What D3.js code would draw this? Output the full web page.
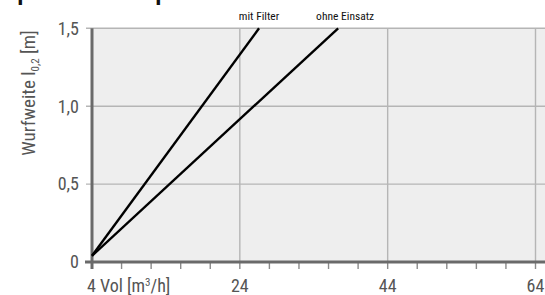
<!DOCTYPE html>
<html><head><meta charset="utf-8">
<script src="https://cdn.jsdelivr.net/npm/d3@7"></script>
<style>
html,body{margin:0;padding:0;background:#fff;}
svg{display:block;}
.cond{font-family:"Roboto Condensed","Liberation Sans Narrow","DejaVu Sans Condensed","Roboto",sans-serif;font-stretch:condensed;}
</style></head>
<body>
<svg id="chart" width="545" height="295"></svg>
<script>
// data
const xTicks = [4, 24, 44, 64];
const xMinorTicks = [4, 8, 12, 16, 20, 24, 28, 32, 36, 40, 44, 48, 52, 56, 60, 64];
const yTicks = [0, 0.5, 1.0, 1.5];
const yTickLabels = ["0", "0,5", "1,0", "1,5"];
const seriesNames = ["mit Filter", "ohne Einsatz"];
const mitFilter = [[4, 0.04], [26.6, 1.5]];
const ohneEinsatz = [[4, 0.04], [37.3, 1.5]];

const svg = d3.select("#chart");
const W = 545, H = 295;
const x = d3.scaleLinear().domain([4, 64]).range([92, 535.5]);
const y = d3.scaleLinear().domain([0, 1.5]).range([262, 28.3]);
const textCol = "#555";
const gridCol = "#b5b5b5";
const axisCol = "#6a6a6a";

// cropped title fragments at the very top
svg.append("g").attr("font-family", "Liberation Sans, Arial, sans-serif").attr("font-weight", "bold")
  .attr("font-size", 24).attr("fill", "#111")
  .selectAll("text").data([[17, "p"], [155, "p"]]).join("text")
  .attr("x", d => d[0]).attr("y", -0.5).text(d => d[1]);

// plot background
svg.append("rect").attr("x", x(4)).attr("y", y(1.5)).attr("width", W - x(4)).attr("height", y(0) - y(1.5)).attr("fill", "#eeeeee");

// horizontal grid
svg.append("g").selectAll("line").data(yTicks.filter(d => d > 0)).join("line")
  .attr("x1", 86).attr("x2", W).attr("y1", d => y(d)).attr("y2", d => y(d))
  .attr("stroke", gridCol).attr("stroke-width", 1.4);
// vertical grid
svg.append("g").selectAll("line").data(xTicks.filter(d => d > 4)).join("line")
  .attr("x1", d => x(d)).attr("x2", d => x(d)).attr("y1", y(1.5)).attr("y2", y(0))
  .attr("stroke", gridCol).attr("stroke-width", 1.4);

// bottom minor ticks
svg.append("g").selectAll("line").data(xMinorTicks).join("line")
  .attr("x1", d => x(d)).attr("x2", d => x(d)).attr("y1", y(0)).attr("y2", y(0) + 7)
  .attr("stroke", "#8a8a8a").attr("stroke-width", 1.4);

// axes lines
svg.append("line").attr("x1", 85).attr("x2", W).attr("y1", y(0)).attr("y2", y(0))
  .attr("stroke", axisCol).attr("stroke-width", 3);
svg.append("line").attr("x1", x(4)).attr("x2", x(4)).attr("y1", y(1.5)).attr("y2", y(0) + 7)
  .attr("stroke", axisCol).attr("stroke-width", 3);

// series lines
const line = d3.line().x(d => x(d[0])).y(d => y(d[1]));
svg.append("g").selectAll("path").data([mitFilter, ohneEinsatz]).join("path")
  .attr("d", line).attr("fill", "none").attr("stroke", "#000").attr("stroke-width", 2.4);

// series labels
const ends = [mitFilter[1], ohneEinsatz[1]];
svg.append("g").attr("class", "cond").attr("font-size", 11.5).attr("fill", "#111")
  .selectAll("text").data(seriesNames).join("text")
  .attr("x", (d, i) => x(ends[i][0]) + (i === 0 ? 0 : 7)).attr("y", 20).attr("text-anchor", "middle").text(d => d);

// y tick labels
svg.append("g").attr("class", "cond").attr("font-size", 18).attr("fill", textCol)
  .selectAll("text").data(yTicks).join("text")
  .attr("x", 79).attr("y", d => y(d)).attr("dy", "0.35em").attr("text-anchor", "end")
  .text((d, i) => yTickLabels[i]);

// x tick labels
const xl = svg.append("g").attr("class", "cond").attr("font-size", 18).attr("fill", textCol);
xl.selectAll("text").data(xTicks.filter(d => d > 4)).join("text")
  .attr("x", d => x(d)).attr("y", 292).attr("text-anchor", "middle").text(d => d);
const xt = xl.append("text").attr("x", 87).attr("y", 292);
xt.append("tspan").text("4 Vol [m");
xt.append("tspan").attr("font-size", 11).attr("dy", -6).text("3");
xt.append("tspan").attr("dy", 6).text("/h]");

// y axis title
const yt = svg.append("text").attr("class", "cond").attr("font-size", 19).attr("fill", textCol)
  .attr("transform", "translate(35,93) rotate(-90)").attr("text-anchor", "middle");
yt.append("tspan").text("Wurfweite l");
yt.append("tspan").attr("font-size", 11).attr("dy", 4).text("0,2");
yt.append("tspan").attr("dy", -4).text(" [m]");
</script>
</body></html>
